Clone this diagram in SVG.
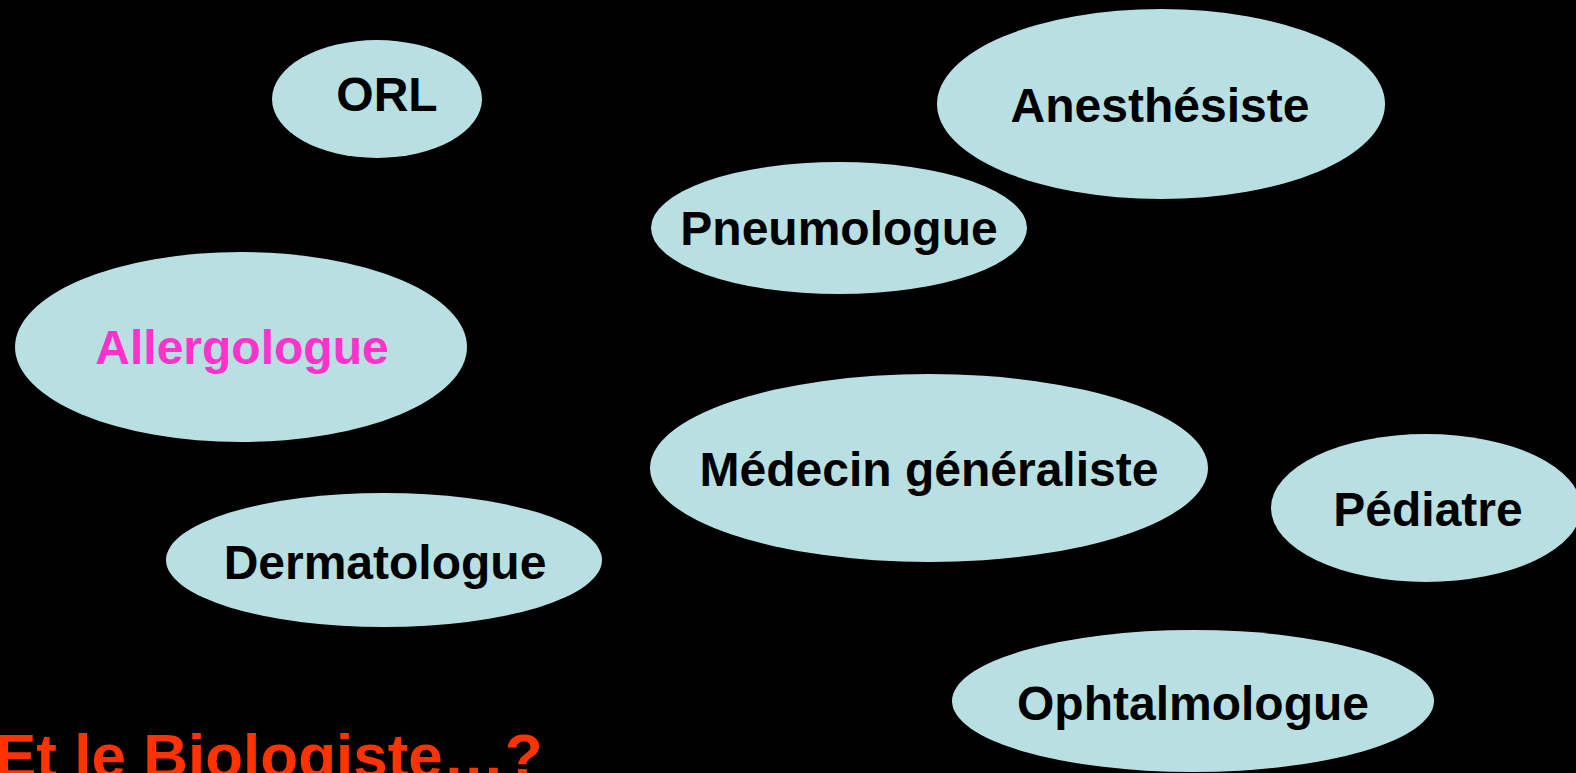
<svg xmlns="http://www.w3.org/2000/svg" width="1576" height="773" viewBox="0 0 1576 773">
<style>
.n{fill:#B8E0E3;}
.t{font-family:"Liberation Sans",Arial,sans-serif;font-weight:bold;font-size:48px;fill:#000;text-anchor:middle;}
.pink{fill:#FF33CC;}
.q{font-family:"Liberation Sans",Arial,sans-serif;font-weight:bold;font-size:62px;fill:#FF3300;}
</style>
<rect x="0" y="0" width="1576" height="773" fill="#000"/>
<g id="connectors"></g>
<g id="orl"><ellipse class="n" cx="377" cy="99" rx="105" ry="59"/><text class="t" x="387" y="111">ORL</text></g>
<g id="anesthesiste"><ellipse class="n" cx="1161" cy="104" rx="224" ry="95"/><text class="t" x="1160" y="122">Anesthésiste</text></g>
<g id="pneumologue"><ellipse class="n" cx="839" cy="228" rx="188" ry="66"/><text class="t" x="839" y="245">Pneumologue</text></g>
<g id="allergologue"><ellipse class="n" cx="241" cy="347" rx="226" ry="95"/><text class="t pink" x="242" y="364">Allergologue</text></g>
<g id="medecin"><ellipse class="n" cx="929" cy="468" rx="279" ry="94"/><text class="t" x="929" y="486">Médecin généraliste</text></g>
<g id="pediatre"><ellipse class="n" cx="1426" cy="508" rx="155" ry="74"/><text class="t" x="1428" y="526">Pédiatre</text></g>
<g id="dermatologue"><ellipse class="n" cx="384" cy="560" rx="218" ry="67"/><text class="t" x="385" y="579">Dermatologue</text></g>
<g id="ophtalmologue"><ellipse class="n" cx="1193" cy="701" rx="241" ry="71"/><text class="t" x="1193" y="720">Ophtalmologue</text></g>
<text class="q" x="-5" y="777">Et le Biologiste…?</text>
</svg>
